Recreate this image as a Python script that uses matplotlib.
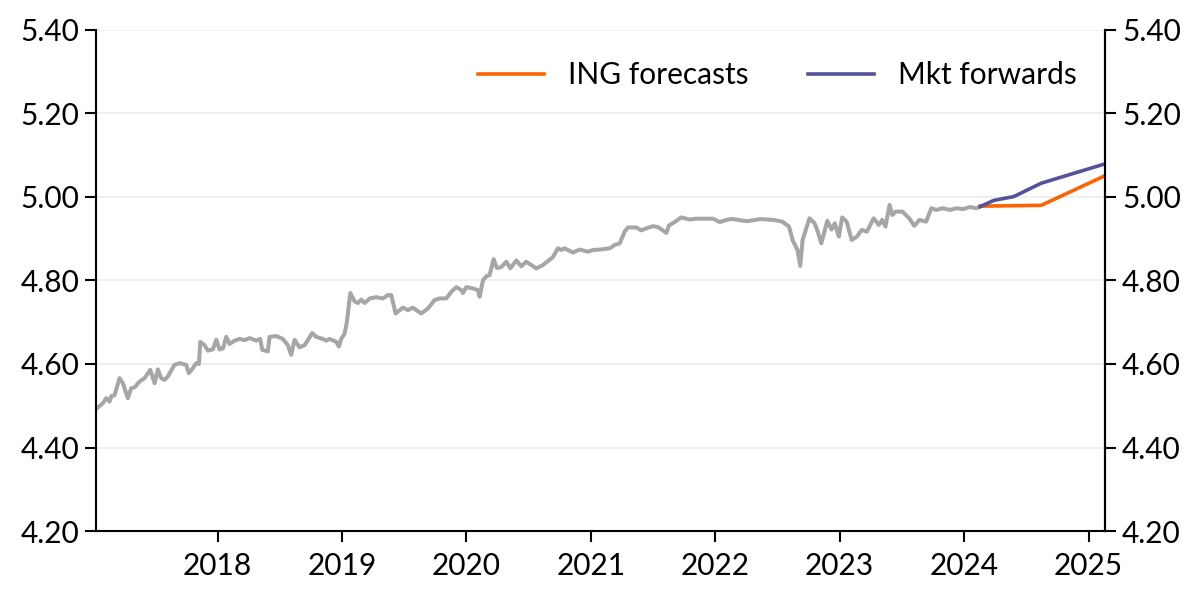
import matplotlib
matplotlib.use("Agg")
import matplotlib.pyplot as plt

# --- data (decimal years) ---
hist_years = [
    2017.030, 2017.078, 2017.105, 2017.132, 2017.146, 2017.172, 2017.212, 2017.239,
    2017.279, 2017.306, 2017.333, 2017.373, 2017.413, 2017.459, 2017.494, 2017.520,
    2017.547, 2017.574, 2017.600, 2017.654, 2017.695, 2017.748, 2017.769, 2017.801,
    2017.829, 2017.850, 2017.861, 2017.895, 2017.922, 2017.962, 2017.990, 2018.016,
    2018.043, 2018.070, 2018.096, 2018.137, 2018.177, 2018.217, 2018.257, 2018.311,
    2018.343, 2018.359, 2018.404, 2018.418, 2018.472, 2018.525, 2018.565, 2018.592,
    2018.619, 2018.659, 2018.699, 2018.761, 2018.793, 2018.846, 2018.874, 2018.900,
    2018.954, 2018.975, 2018.994, 2019.021, 2019.039, 2019.067, 2019.101, 2019.128,
    2019.155, 2019.182, 2019.222, 2019.276, 2019.329, 2019.369, 2019.396, 2019.431,
    2019.490, 2019.530, 2019.570, 2019.597, 2019.637, 2019.691, 2019.744, 2019.785,
    2019.838, 2019.879, 2019.919, 2019.959, 2019.972, 2019.999, 2020.052, 2020.092,
    2020.106, 2020.133, 2020.160, 2020.186, 2020.219, 2020.245, 2020.280, 2020.321,
    2020.353, 2020.401, 2020.441, 2020.481, 2020.522, 2020.562, 2020.615, 2020.669,
    2020.695, 2020.736, 2020.763, 2020.789, 2020.856, 2020.910, 2020.977, 2021.017,
    2021.071, 2021.151, 2021.191, 2021.232, 2021.272, 2021.298, 2021.366, 2021.406,
    2021.446, 2021.500, 2021.540, 2021.607, 2021.628, 2021.674, 2021.727, 2021.794,
    2021.848, 2021.982, 2022.035, 2022.116, 2022.144, 2022.253, 2022.362, 2022.470,
    2022.539, 2022.593, 2022.621, 2022.661, 2022.683, 2022.702, 2022.757, 2022.798,
    2022.824, 2022.852, 2022.901, 2022.934, 2022.961, 2022.993, 2023.020, 2023.056,
    2023.097, 2023.138, 2023.178, 2023.219, 2023.273, 2023.314, 2023.341, 2023.368,
    2023.401, 2023.423, 2023.450, 2023.504, 2023.559, 2023.600, 2023.641, 2023.695,
    2023.736, 2023.776, 2023.831, 2023.885, 2023.940, 2023.994, 2024.048, 2024.103,
    2024.130,
]
hist_values = [
    4.494, 4.506, 4.518, 4.510, 4.523, 4.525, 4.566, 4.554,
    4.518, 4.542, 4.544, 4.558, 4.566, 4.586, 4.554, 4.587,
    4.566, 4.562, 4.570, 4.598, 4.602, 4.598, 4.578, 4.590,
    4.602, 4.600, 4.653, 4.645, 4.632, 4.635, 4.658, 4.635,
    4.637, 4.665, 4.648, 4.656, 4.660, 4.657, 4.662, 4.656,
    4.660, 4.634, 4.630, 4.665, 4.667, 4.660, 4.645, 4.622,
    4.658, 4.640, 4.645, 4.674, 4.665, 4.660, 4.656, 4.660,
    4.653, 4.642, 4.660, 4.673, 4.700, 4.770, 4.750, 4.746,
    4.754, 4.746, 4.757, 4.760, 4.757, 4.765, 4.765, 4.721,
    4.735, 4.729, 4.735, 4.729, 4.721, 4.733, 4.753, 4.757,
    4.757, 4.773, 4.784, 4.777, 4.770, 4.784, 4.781, 4.777,
    4.761, 4.800, 4.810, 4.813, 4.851, 4.830, 4.832, 4.845,
    4.829, 4.848, 4.834, 4.845, 4.837, 4.829, 4.837, 4.850,
    4.856, 4.877, 4.873, 4.877, 4.867, 4.874, 4.869, 4.873,
    4.874, 4.877, 4.885, 4.889, 4.917, 4.927, 4.927, 4.920,
    4.925, 4.930, 4.928, 4.914, 4.932, 4.940, 4.951, 4.946,
    4.948, 4.948, 4.940, 4.947, 4.947, 4.942, 4.947, 4.945,
    4.941, 4.929, 4.897, 4.873, 4.835, 4.897, 4.949, 4.937,
    4.917, 4.889, 4.943, 4.922, 4.937, 4.905, 4.951, 4.941,
    4.897, 4.905, 4.921, 4.917, 4.949, 4.933, 4.945, 4.929,
    4.981, 4.957, 4.965, 4.965, 4.949, 4.931, 4.945, 4.941,
    4.973, 4.969, 4.973, 4.969, 4.973, 4.971, 4.976, 4.973,
    4.977,
]

ing_years = [2024.13, 2024.62, 2025.14]
ing_values = [4.978, 4.980, 5.052]

mkt_years = [2024.13, 2024.24, 2024.40, 2024.62, 2025.14]
mkt_values = [4.977, 4.992, 5.001, 5.033, 5.080]

year_ticks = [2018, 2019, 2020, 2021, 2022, 2023, 2024, 2025]
y_ticks = [4.20, 4.40, 4.60, 4.80, 5.00, 5.20, 5.40]

# --- style ---
plt.rcParams['font.family'] = ['Lato', 'DejaVu Sans']
FS = 21.5

fig = plt.figure(figsize=(12, 5.99), dpi=100)
ax = fig.add_axes([0.08, 0.1135, 0.841, 0.8365])

ax.plot(hist_years, hist_values, color='#a6a6a6', lw=2.9, solid_joinstyle='round')
ax.plot(ing_years, ing_values, color='#ff6200', lw=2.6, label='ING forecasts')
ax.plot(mkt_years, mkt_values, color='#55529c', lw=2.6, label='Mkt forwards')

ax.set_xlim(2017.023, 2025.134)
ax.set_ylim(4.20, 5.40)
ax.set_xticks(year_ticks)
ax.set_xticklabels([str(y) for y in year_ticks])
ax.set_yticks(y_ticks)
ax.set_yticklabels([f"{v:.2f}" for v in y_ticks])

for y in y_ticks[1:]:
    ax.axhline(y, color='#ececec', lw=1.2, zorder=0)

ax.spines['top'].set_visible(False)
for s in ['left', 'bottom', 'right']:
    ax.spines[s].set_linewidth(1.5)
    ax.spines[s].set_color('black')
ax.tick_params(axis='both', direction='out', length=8, width=1.5, labelsize=FS, colors='black')
ax.tick_params(axis='x', pad=7)
ax.tick_params(axis='y', pad=4)

ax2 = ax.twinx()
ax2.set_ylim(ax.get_ylim())
ax2.set_yticks(y_ticks)
ax2.set_yticklabels([f"{v:.2f}" for v in y_ticks])
for s in ['left', 'bottom', 'top']:
    ax2.spines[s].set_visible(False)
ax2.spines['right'].set_linewidth(1.5)
ax2.tick_params(axis='y', direction='out', length=8, width=1.5, labelsize=FS, pad=4)

leg = ax.legend(loc='upper right', ncol=2, frameon=False, fontsize=FS,
                handlelength=2.2, columnspacing=2.0, handletextpad=0.8,
                bbox_to_anchor=(0.998, 0.991))

fig.savefig('out.png', dpi=100)
